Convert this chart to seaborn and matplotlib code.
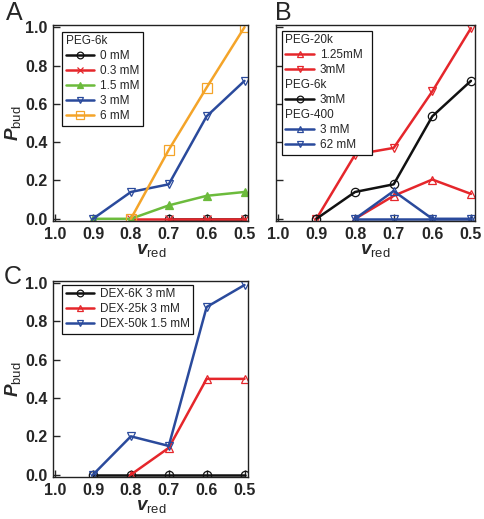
import pandas as pd
import matplotlib
matplotlib.use("Agg")
import matplotlib.pyplot as plt
from matplotlib.lines import Line2D
import seaborn as sns

# ---- data ----
v_red = [0.9, 0.8, 0.7, 0.6, 0.5]

# panel A: PEG-6k at different concentrations
a_0mM = [0.0, 0.0, 0.0]           # x = 0.7..0.5
a_03mM = [0.0, 0.0, 0.0, 0.0]     # x = 0.8..0.5
a_15mM = [0.0, 0.0, 0.07, 0.12, 0.14]
a_3mM = [0.0, 0.14, 0.18, 0.535, 0.72]
a_6mM = [0.0, 0.36, 0.685, 1.0]   # x = 0.8..0.5

# panel B: polymer size
b_peg20k_125 = [0.0, 0.12, 0.205, 0.13]   # x = 0.8..0.5
b_peg20k_3 = [0.0, 0.335, 0.37, 0.665, 0.995]
b_peg6k_3 = [0.0, 0.14, 0.18, 0.535, 0.72]
b_peg400_3 = [0.0, 0.145, 0.0, 0.0]       # x = 0.8..0.5
b_peg400_62 = [0.0, 0.0, 0.0, 0.0]        # x = 0.8..0.5

# panel C: dextran
c_dex6k = [0.0, 0.0, 0.0, 0.0, 0.0]
c_dex25k = [0.0, 0.14, 0.5, 0.5]          # x = 0.8..0.5
c_dex50k = [0.0, 0.2, 0.15, 0.875, 0.99]

BLACK = "#111111"
RED = "#e5262b"
GREEN = "#6cbb3c"
BLUE = "#2a4a9c"
ORANGE = "#f4a429"

sns.set_style("ticks")
plt.rcParams["font.family"] = ["Liberation Sans", "DejaVu Sans"]
plt.rcParams["mathtext.fontset"] = "custom"
plt.rcParams["mathtext.it"] = "Liberation Sans:italic:bold"
plt.rcParams["mathtext.rm"] = "Liberation Sans"
plt.rcParams["mathtext.bf"] = "Liberation Sans:bold"

LEG_FS = 8.5
HANDLE_LEN = 2.4
HANDLE_PAD = 0.5


def draw(ax, xs, ys, color, marker, label, filled=False, ms=6):
    df = pd.DataFrame({"x": xs, "y": ys})
    sns.lineplot(data=df, x="x", y="y", ax=ax, color=color, marker=marker,
                 markersize=ms, markeredgecolor=color,
                 markerfacecolor=color if filled else "none",
                 markeredgewidth=0.9, linewidth=1.8, label=label,
                 estimator=None, sort=False)


def style_axes(ax, ylabels=True):
    ax.set_xlim(1.005, 0.49)
    ax.set_ylim(-0.012, 1.012)
    ax.set_xticks([1.0, 0.9, 0.8, 0.7, 0.6, 0.5])
    ax.set_xticklabels(["1.0", "0.9", "0.8", "0.7", "0.6", "0.5"])
    ax.set_yticks([0.0, 0.2, 0.4, 0.6, 0.8, 1.0])
    if ylabels:
        ax.set_yticklabels(["0.0", "0.2", "0.4", "0.6", "0.8", "1.0"])
        ax.set_ylabel(r"$\mathit{P}_{\mathrm{bud}}$", fontsize=13.5, labelpad=2)
    else:
        ax.set_yticklabels([])
        ax.set_ylabel("")
    ax.set_xlabel(r"$\mathit{v}_{\mathrm{red}}$", fontsize=13.5, labelpad=0)
    ax.tick_params(direction="in", length=5, width=1, labelsize=11.5, pad=4)
    for lab in ax.get_xticklabels() + ax.get_yticklabels():
        lab.set_fontweight("bold")
    for sp in ax.spines.values():
        sp.set_visible(True)
        sp.set_color("#222222")
        sp.set_linewidth(1.0)


def make_legend(ax, handles, labels, anchor, title=None, headers=()):
    leg = ax.legend(handles, labels, loc="upper left", bbox_to_anchor=anchor,
                    borderaxespad=0, fontsize=LEG_FS, title=title,
                    title_fontsize=LEG_FS, alignment="left", frameon=True,
                    fancybox=False, edgecolor="#111111", framealpha=1,
                    handlelength=HANDLE_LEN, handletextpad=HANDLE_PAD,
                    labelspacing=0.25, borderpad=0.3, markerscale=0.8)
    leg.get_frame().set_linewidth(0.9)
    # group headers sit flush left, like the title
    shift = (HANDLE_LEN + HANDLE_PAD) * LEG_FS * 100 / 72
    for t in leg.get_texts():
        if t.get_text() in headers:
            t.set_x(-shift)
    return leg


fig = plt.figure(figsize=(4.84, 5.19), dpi=100)
axA = fig.add_axes([0.110, 0.574, 0.403, 0.378])
axB = fig.add_axes([0.570, 0.574, 0.411, 0.378])
axC = fig.add_axes([0.110, 0.081, 0.403, 0.378])

# ---- panel A ----
draw(axA, v_red[2:], a_0mM, BLACK, "o", "0 mM")
draw(axA, v_red[1:], a_03mM, RED, "x", "0.3 mM")
draw(axA, v_red, a_15mM, GREEN, "^", "1.5 mM", filled=True)
draw(axA, v_red, a_3mM, BLUE, "v", "3 mM")
draw(axA, v_red[1:], a_6mM, ORANGE, "s", "6 mM", ms=7)
style_axes(axA)
hA, lA = axA.get_legend_handles_labels()
make_legend(axA, hA, lA, (0.045, 0.965), title="PEG-6k")

# ---- panel B ----
draw(axB, v_red[1:], b_peg20k_125, RED, "^", "1.25mM")
draw(axB, v_red, b_peg20k_3, RED, "v", "3mM")
draw(axB, v_red, b_peg6k_3, BLACK, "o", "3mM ")
draw(axB, v_red[1:], b_peg400_3, BLUE, "^", "3 mM")
draw(axB, v_red[1:], b_peg400_62, BLUE, "v", "62 mM")
style_axes(axB, ylabels=False)
hB, lB = axB.get_legend_handles_labels()
blank = Line2D([], [], linestyle="none")
handlesB = [blank, hB[0], hB[1], blank, hB[2], blank, hB[3], hB[4]]
labelsB = ["PEG-20k", "1.25mM", "3mM", "PEG-6k", "3mM", "PEG-400",
           "3 mM", "62 mM"]
make_legend(axB, handlesB, labelsB, (0.03, 0.97),
            headers=("PEG-20k", "PEG-6k", "PEG-400"))

# ---- panel C ----
draw(axC, v_red, c_dex6k, BLACK, "o", "DEX-6K 3 mM")
draw(axC, v_red[1:], c_dex25k, RED, "^", "DEX-25k 3 mM")
draw(axC, v_red, c_dex50k, BLUE, "v", "DEX-50k 1.5 mM")
style_axes(axC)
hC, lC = axC.get_legend_handles_labels()
make_legend(axC, hC, lC, (0.045, 0.98))

fig.text(0.012, 0.952, "A", fontsize=18, va="bottom")
fig.text(0.568, 0.952, "B", fontsize=18, va="bottom")
fig.text(0.008, 0.444, "C", fontsize=18, va="bottom")

fig.savefig("out.png", dpi=100)
